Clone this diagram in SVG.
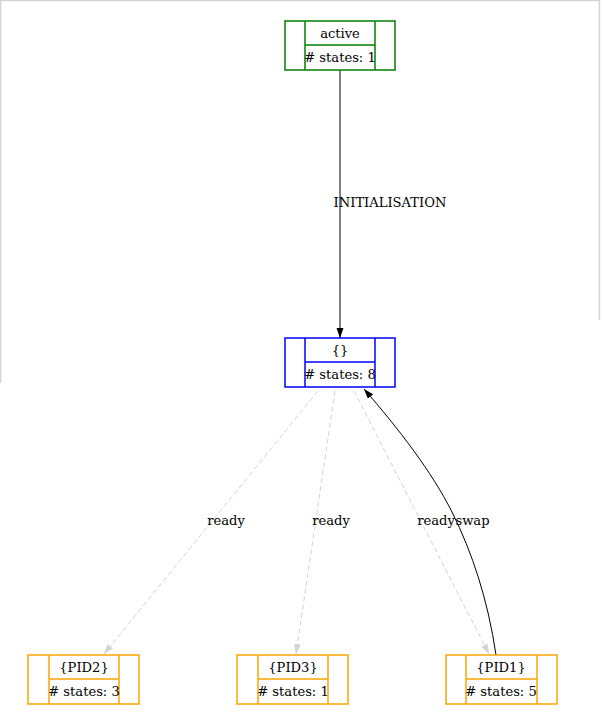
<svg xmlns="http://www.w3.org/2000/svg" width="602" height="722" viewBox="0 0 602 722">
<style>
text { font-family: "DejaVu Serif", "Liberation Serif", serif; font-size: 13.1px; fill: #000; }
.c { text-anchor: middle; }
.box { fill: none; stroke-width: 1.5; }
.g { stroke: #008000; }
.b { stroke: #0000ff; }
.o { stroke: #ffa500; }
.solid { fill: none; stroke: #000; stroke-width: 1; }
.dash { fill: none; stroke: #d3d3d3; stroke-width: 1; stroke-dasharray: 5,3; }
.frame { stroke: #d3d3d3; stroke-width: 1.5; fill: none; }
</style>
<defs>
<marker id="ab" markerUnits="userSpaceOnUse" markerWidth="10" markerHeight="8" refX="10" refY="3.5" orient="auto">
<path d="M0,0 L10,3.5 L0,7 z" fill="#000"/>
</marker>
<marker id="ag" markerUnits="userSpaceOnUse" markerWidth="10" markerHeight="8" refX="10" refY="3.5" orient="auto">
<path d="M0,0 L10,3.5 L0,7 z" fill="#d3d3d3"/>
</marker>
</defs>
<rect width="602" height="722" fill="#fff"/>
<g id="frame">
<path class="frame" d="M0.5,383 L0.5,0.5 L599.5,0.5 L599.5,320"/>
</g>
<g id="connectors">
<line class="solid" x1="340" y1="70" x2="340" y2="338" marker-end="url(#ab)"/>
<text x="390" y="207" class="c">INITIALISATION</text>
<line class="dash" x1="318" y1="391" x2="104" y2="654" marker-end="url(#ag)"/>
<text x="226" y="525" class="c">ready</text>
<line class="dash" x1="335" y1="391" x2="296" y2="654" marker-end="url(#ag)"/>
<text x="331" y="525" class="c">ready</text>
<line class="dash" x1="354" y1="391" x2="489" y2="654" marker-end="url(#ag)"/>
<text x="436" y="525" class="c">ready</text>
<path class="solid" d="M496,655 C488,600 472,552 452,512 C432,472 398,428 364,389" marker-end="url(#ab)"/>
<text x="472.5" y="525" class="c">swap</text>
</g>
<g id="active">
<rect class="box g" x="285" y="21" width="110" height="49"/>
<line class="box g" x1="305" y1="21" x2="305" y2="70"/>
<line class="box g" x1="375" y1="21" x2="375" y2="70"/>
<line class="box g" x1="305" y1="45" x2="375" y2="45"/>
<text x="340" y="38" class="c">active</text>
<text x="340" y="62" class="c"># states: 1</text>
</g>
<g id="root">
<rect class="box b" x="285" y="338" width="110" height="49"/>
<line class="box b" x1="305" y1="338" x2="305" y2="387"/>
<line class="box b" x1="375" y1="338" x2="375" y2="387"/>
<line class="box b" x1="305" y1="362" x2="375" y2="362"/>
<text x="340" y="355" class="c">{}</text>
<text x="340" y="379" class="c"># states: 8</text>
</g>
<g id="pid2">
<rect class="box o" x="28" y="655" width="111" height="49"/>
<line class="box o" x1="49" y1="655" x2="49" y2="704"/>
<line class="box o" x1="119" y1="655" x2="119" y2="704"/>
<line class="box o" x1="49" y1="679" x2="119" y2="679"/>
<text x="84" y="672" class="c">{PID2}</text>
<text x="84" y="696" class="c"># states: 3</text>
</g>
<g id="pid3">
<rect class="box o" x="237" y="655" width="111" height="49"/>
<line class="box o" x1="258" y1="655" x2="258" y2="704"/>
<line class="box o" x1="328" y1="655" x2="328" y2="704"/>
<line class="box o" x1="258" y1="679" x2="328" y2="679"/>
<text x="293" y="672" class="c">{PID3}</text>
<text x="293" y="696" class="c"># states: 1</text>
</g>
<g id="pid1">
<rect class="box o" x="446" y="655" width="111" height="49"/>
<line class="box o" x1="466" y1="655" x2="466" y2="704"/>
<line class="box o" x1="537" y1="655" x2="537" y2="704"/>
<line class="box o" x1="466" y1="679" x2="537" y2="679"/>
<text x="501" y="672" class="c">{PID1}</text>
<text x="501" y="696" class="c"># states: 5</text>
</g>
</svg>
